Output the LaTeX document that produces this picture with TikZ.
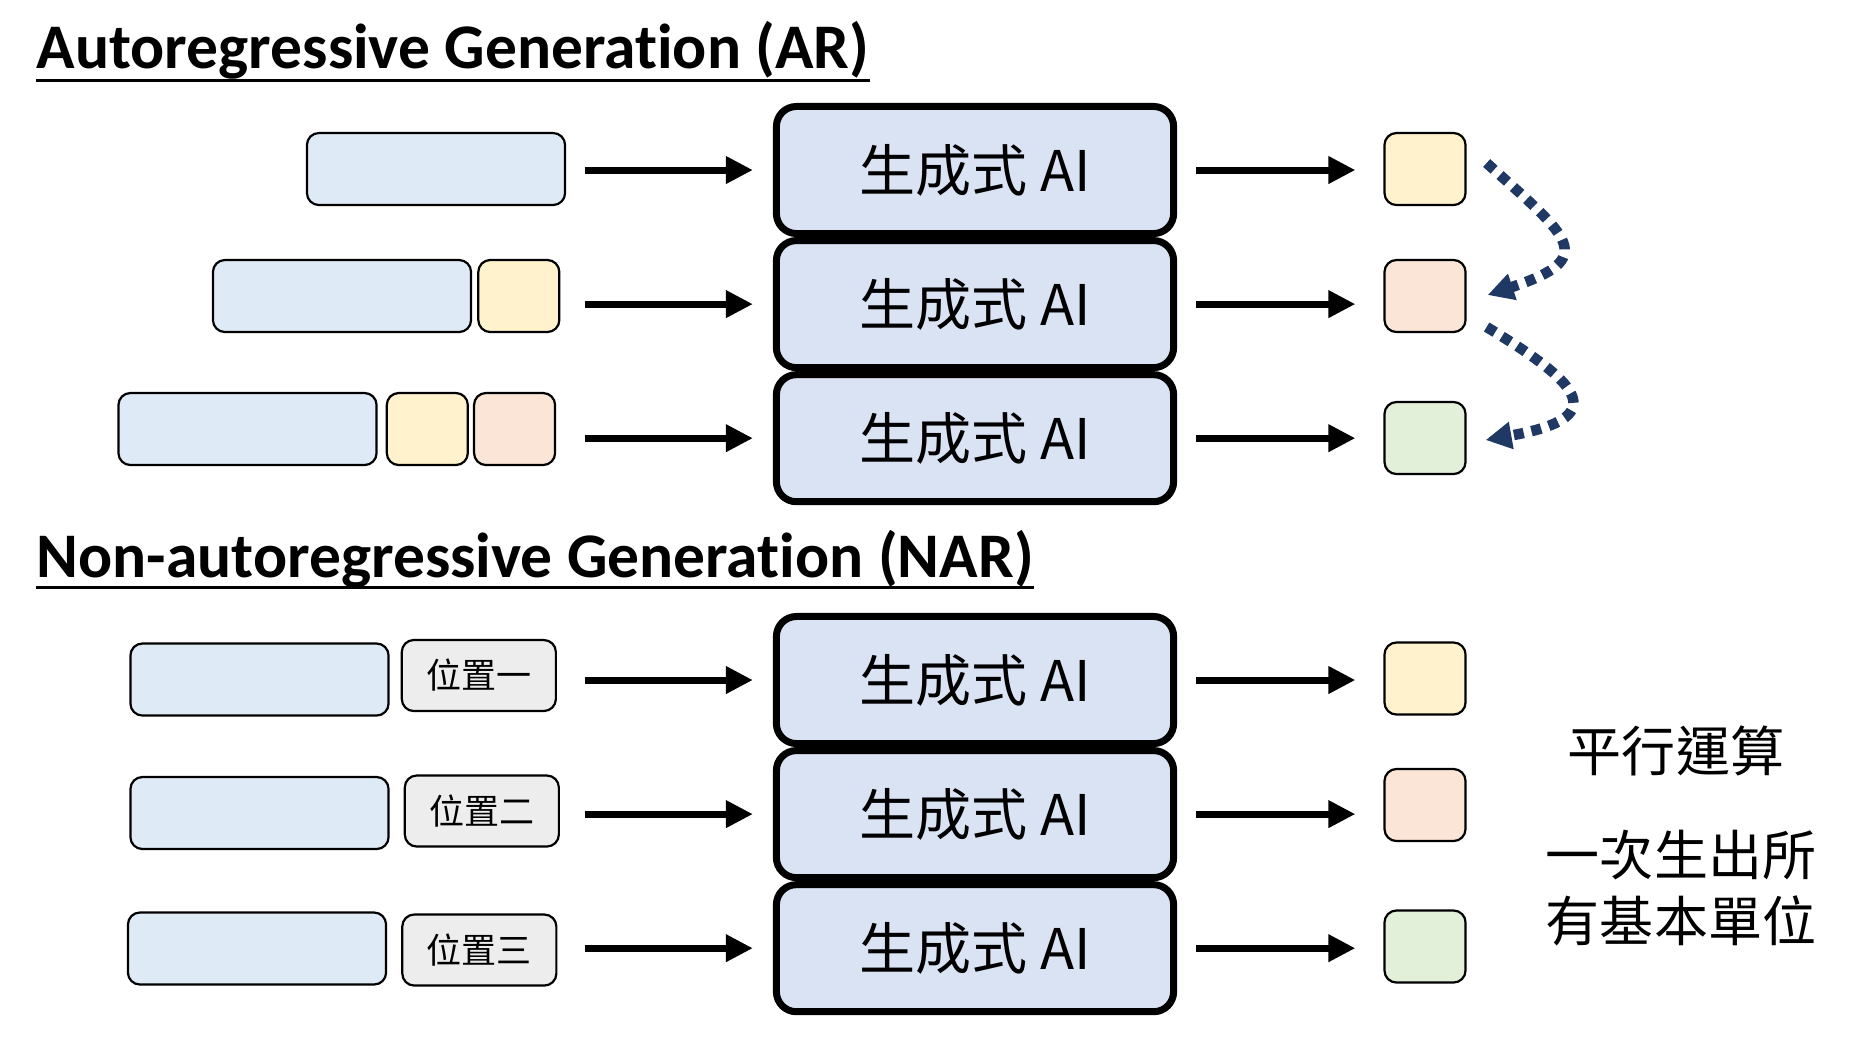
\documentclass[tikz,border=0pt]{standalone}
\usepackage{fontspec}
\setmainfont{Carlito}[Ligatures={NoCommon,NoContextual}, Contextuals=NoAlternate]
\newfontfamily\cjk{Noto Sans CJK TC}
\usetikzlibrary{positioning,arrows.meta,calc}
\definecolor{aifill}{HTML}{DAE3F3}
\definecolor{ctxblue}{HTML}{DEEBF7}
\definecolor{tokyellow}{HTML}{FFF2CC}
\definecolor{tokpink}{HTML}{FBE5D6}
\definecolor{tokgreen}{HTML}{E2F0D9}
\definecolor{posgray}{HTML}{EDEDED}
\definecolor{navy}{HTML}{1F3864}

\begin{document}
\begin{tikzpicture}[x=0.01cm, y=-0.01cm,
	title/.style={anchor=base west, inner sep=0, font=\bfseries\fontsize{0.635cm}{0.76cm}\selectfont},
	ai/.style={draw, line width=0.07cm, rounded corners=0.2cm, fill=aifill, minimum width=3.97cm, minimum height=1.27cm, font=\cjk\fontsize{0.56cm}{0.64cm}\selectfont},
	ctx/.style={draw, line width=0.022cm, rounded corners=0.12cm, fill=ctxblue, minimum width=2.58cm, minimum height=0.72cm},
	tok/.style={draw, line width=0.022cm, rounded corners=0.12cm, fill=#1, minimum width=0.81cm, minimum height=0.72cm},
	posbox/.style={draw, line width=0.022cm, rounded corners=0.12cm, fill=posgray, minimum width=1.54cm, minimum height=0.71cm, font=\cjk\fontsize{0.35cm}{0.4cm}\selectfont},
	note/.style={align=center, font=\cjk\fontsize{0.54cm}{0.66cm}\selectfont},
	arr/.style={-{Triangle[length=0.27cm, width=0.26cm]}, line width=0.07cm},
	dotarr/.style={-{Triangle[length=0.26cm, width=0.26cm]}, navy, line width=0.105cm, dash pattern=on 0.1cm off 0.08cm}]
	\useasboundingbox (0,0) rectangle (1864,1050);

	% AR
	\node[title] (ar) at (36,68) {Autoregressive Generation (AR)};
	\draw[line width=0.03cm] ($(ar.base west)+(0,12)$) -- ($(ar.base east)+(0,12)$);

	\node[ai] (g1) at (975,170) {生成式 AI};
	\node[ai, below=0cm of g1] (g2) {生成式 AI};
	\node[ai, below=0cm of g2] (g3) {生成式 AI};

	\node[ctx] (c1) at (436,169) {};
	\node[ctx] (c2) at (342,296) {};
	\node[tok=tokyellow, right=0.05cm of c2] (c2a) {};
	\node[ctx] (c3) at (247.5,429) {};
	\node[tok=tokyellow, right=0.08cm of c3] (c3a) {};
	\node[tok=tokpink, right=0.04cm of c3a] (c3b) {};

	\node[tok=tokyellow] (o1) at (1425,169) {};
	\node[tok=tokpink] (o2) at (1425,296) {};
	\node[tok=tokgreen] (o3) at (1425,438) {};

	\draw[arr] ($(g1.west)+(-188,0)$) -- ($(g1.west)+(-20,0)$);
	\draw[arr] ($(g2.west)+(-188,0)$) -- ($(g2.west)+(-20,0)$);
	\draw[arr] ($(g3.west)+(-188,0)$) -- ($(g3.west)+(-20,0)$);
	\draw[arr] ($(g1.east)+(19,0)$) -- ($(g1.east -| o1.west)+(-28,0)$);
	\draw[arr] ($(g2.east)+(19,0)$) -- ($(g2.east -| o2.west)+(-28,0)$);
	\draw[arr] ($(g3.east)+(19,0)$) -- ($(g3.east -| o3.west)+(-28,0)$);

	\draw[dotarr] ($(o1.east)+(20,-6)$) .. controls ($(o1.east)+(103,69)$) and ($(o2.east)+(133,-38)$) .. ($(o2.east)+(21,-1)$);
	\draw[dotarr] ($(o2.east)+(20,31)$) .. controls ($(o2.east)+(118,90)$) and ($(o3.east)+(143,-20)$) .. ($(o3.east)+(19,2)$);

	% NAR
	\node[title] (nar) at (36,577) {Non-autoregressive Generation (NAR)};
	\draw[line width=0.03cm] ($(nar.base west)+(0,10)$) -- ($(nar.base east)+(0,10)$);

	\node[ai] (g4) at (975,680) {生成式 AI};
	\node[ai, below=0cm of g4] (g5) {生成式 AI};
	\node[ai, below=0cm of g5] (g6) {生成式 AI};

	\node[ctx] (n1) at (259.5,679.5) {};
	\node[posbox, right=0.11cm of n1, yshift=0.04cm] (p1) {位置一};
	\node[ctx] (n2) at (259.5,813) {};
	\node[posbox, right=0.14cm of n2, yshift=0.02cm] (p2) {位置二};
	\node[ctx] (n3) at (257,948.5) {};
	\node[posbox, right=0.14cm of n3, yshift=-0.015cm] (p3) {位置三};

	\node[tok=tokyellow] (o4) at (1425,678.5) {};
	\node[tok=tokpink] (o5) at (1425,805) {};
	\node[tok=tokgreen] (o6) at (1425,946.5) {};

	\draw[arr] ($(g4.west)+(-188,0)$) -- ($(g4.west)+(-20,0)$);
	\draw[arr] ($(g5.west)+(-188,0)$) -- ($(g5.west)+(-20,0)$);
	\draw[arr] ($(g6.west)+(-188,0)$) -- ($(g6.west)+(-20,0)$);
	\draw[arr] ($(g4.east)+(19,0)$) -- ($(g4.east -| o4.west)+(-28,0)$);
	\draw[arr] ($(g5.east)+(19,0)$) -- ($(g5.east -| o5.west)+(-28,0)$);
	\draw[arr] ($(g6.east)+(19,0)$) -- ($(g6.east -| o6.west)+(-28,0)$);

	\node[note] (par) at (1676,751) {平行運算};
	\node[note] (once) at (1681,888) {一次生出所\\有基本單位};
\end{tikzpicture}
\end{document}
